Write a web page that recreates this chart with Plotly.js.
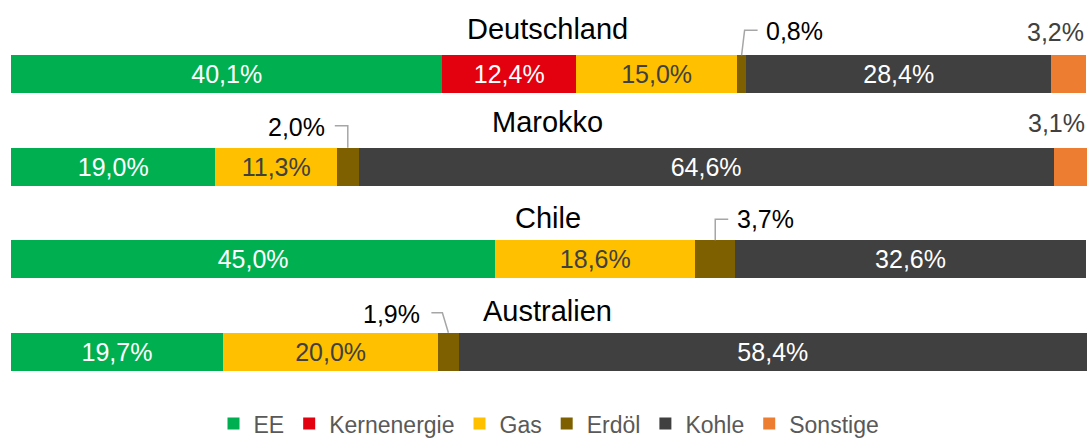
<!DOCTYPE html>
<html>
<head>
<meta charset="utf-8">
<script src="https://cdn.plot.ly/plotly-3.0.1.min.js"></script>
<style>html,body{margin:0;padding:0;background:#fff;}#chart{width:1088px;height:439px;}</style>
</head>
<body>
<div id="chart"></div>
<script>
// ---- data ----
const countries = ['Deutschland', 'Marokko', 'Chile', 'Australien'];
const seriesNames = ['EE', 'Kernenergie', 'Gas', 'Erdöl', 'Kohle', 'Sonstige'];
const EE          = [40.1, 19.0, 45.0, 19.7];
const Kernenergie = [12.4, 0,    0,    0];
const Gas         = [15.0, 11.3, 18.6, 20.0];
const Erdoel      = [0.8,  2.0,  3.7,  1.9];
const Kohle       = [28.4, 64.6, 32.6, 58.4];
const Sonstige    = [3.2,  3.1,  0,    0];

// ---- style ----
const colors = ['#00B050', '#E3000F', '#FFC000', '#7F6000', '#404040', '#ED7D31'];
const labelColors = ['#ffffff', '#ffffff', '#404040', '#ffffff', '#ffffff', '#404040'];
const inside = [true, true, true, false, true, false];
const FONT = 'Liberation Sans, Arial, sans-serif';

const series = [EE, Kernenergie, Gas, Erdoel, Kohle, Sonstige];
const fmt = v => v.toFixed(1).replace('.', ',') + '%';

const traces = series.map((vals, i) => ({
  type: 'bar',
  orientation: 'h',
  name: seriesNames[i],
  y: countries,
  x: vals,
  marker: {color: colors[i], line: {width: 0}},
  text: vals.map(v => (inside[i] && v > 0) ? fmt(v) : ''),
  textposition: 'inside',
  insidetextanchor: 'middle',
  textangle: 0,
  constraintext: 'none',
  textfont: {family: FONT, size: 25, color: labelColors[i]},
  hoverinfo: 'skip'
}));

// cumulative helpers
const cumBefore = (si, ci) => series.slice(0, si).reduce((a, s) => a + s[ci], 0);

// title offsets (px above bar centre)
const titleShift = [45, 45, 41, 41];
const annotations = countries.map((c, ci) => ({
  xref: 'paper', yref: 'y', x: 0.499, y: ci,
  text: c, showarrow: false, xanchor: 'center', yanchor: 'middle',
  yshift: titleShift[ci],
  font: {family: FONT, size: 29, color: '#000000'}
}));

// Erdöl callouts: leader path (pixel offsets) and label placement
const erdoelCallout = [
  {path: 'M 0,19 L 3,44 L 16,44', xshift: 22, anchor: 'left', yshift: 43},
  {path: 'M 0,19 L 0,41 L -13,41', xshift: -21, anchor: 'right', yshift: 40},
  {path: 'M 0,19 L 0,40 L 13,40', xshift: 20, anchor: 'left', yshift: 40},
  {path: 'M 0,19 L -6,39 L -17,39', xshift: -26, anchor: 'right', yshift: 38}
];
const shapes = [];
countries.forEach((c, ci) => {
  const v = Erdoel[ci];
  if (!v) return;
  const mid = cumBefore(3, ci) + v / 2;
  const co = erdoelCallout[ci];
  shapes.push({
    type: 'path', xref: 'x', yref: 'y', xsizemode: 'pixel', ysizemode: 'pixel',
    xanchor: mid, yanchor: ci, path: co.path,
    line: {color: '#A6A6A6', width: 1.5}
  });
  annotations.push({
    xref: 'x', yref: 'y', x: mid, y: ci, text: fmt(v), showarrow: false,
    xanchor: co.anchor, yanchor: 'middle', xshift: co.xshift, yshift: co.yshift,
    font: {family: FONT, size: 25, color: '#000000'}
  });
});
// Sonstige labels above right end
const sonstigeShift = [42, 44, 42, 42];
countries.forEach((c, ci) => {
  const v = Sonstige[ci];
  if (!v) return;
  const end = cumBefore(5, ci) + v;
  annotations.push({
    xref: 'x', yref: 'y', x: end, y: ci, text: fmt(v), showarrow: false,
    xanchor: 'right', yanchor: 'middle', xshift: 0, yshift: sonstigeShift[ci],
    font: {family: FONT, size: 25, color: '#404040'}
  });
});

const layout = {
  width: 1088, height: 439,
  margin: {l: 11, r: 1, t: 28, b: 41, autoexpand: false},
  barmode: 'stack',
  bargap: 0.59,
  paper_bgcolor: '#ffffff', plot_bgcolor: '#ffffff',
  xaxis: {range: [0, 100], visible: false, fixedrange: true},
  yaxis: {type: 'category', range: [3.5, -0.5], visible: false, fixedrange: true},
  showlegend: true,
  legend: {
    orientation: 'h', x: 0.5, xanchor: 'center',
    yref: 'container', y: 0.035, yanchor: 'middle',
    font: {family: FONT, size: 23, color: '#595959'},
    traceorder: 'normal', itemwidth: 30
  },
  annotations: annotations,
  shapes: shapes,
  font: {family: FONT}
};

Plotly.newPlot('chart', traces, layout, {displayModeBar: false, staticPlot: true});
</script>
</body>
</html>
